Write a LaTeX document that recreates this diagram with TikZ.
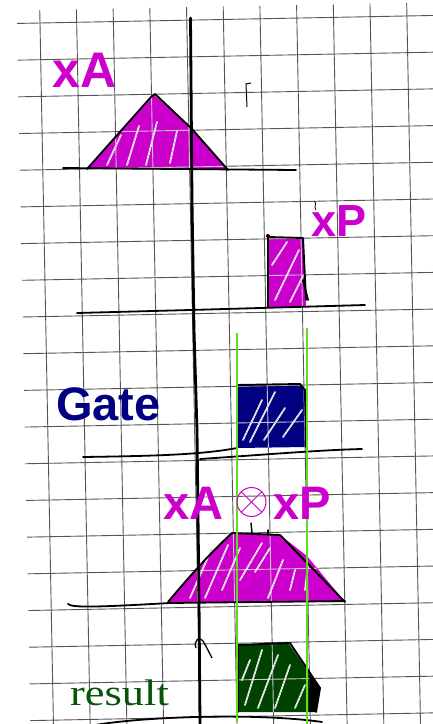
\documentclass[tikz,border=0pt]{standalone}
\usepackage{fontspec}
\setmainfont{Liberation Serif}
\newfontfamily\lsans{Liberation Sans}
\definecolor{mag}{RGB}{204,0,204}
\definecolor{navyb}{RGB}{0,0,128}
\definecolor{dgreen}{RGB}{8,84,8}
\definecolor{dgfill}{RGB}{0,66,0}
\definecolor{lgreen}{RGB}{96,220,32}
\definecolor{gridc}{RGB}{85,85,85}
\definecolor{gridl}{RGB}{200,200,200}
\newcommand\drawmygrid[1]{%
  \begin{scope}[shift={(40,23)},rotate=1.1]
    \foreach \k in {0,...,11}{\draw[#1] (\k*36.7,-13) -- (\k*36.7,712);}
    \foreach \j in {0,...,19}{\draw[#1] (-23,\j*36.7) -- (410,\j*36.7);}
  \end{scope}}
\begin{document}
\begin{tikzpicture}[x=1pt,y=-1pt,
  gridline/.style={gridc,line width=0.9},
  gridlight/.style={gridl,line width=0.9},
  outline/.style={black,line width=1.9,line cap=round,line join=round},
  baseline/.style={black,line width=1.8,line cap=round},
  hatchw/.style={white,line width=1.7,line cap=round},
  hatchd/.style={black!45,line width=0.6,densely dotted},
  glabel/.style={inner sep=0,anchor=base west}]
\useasboundingbox (0,0) rectangle (432,724);
\fill[white] (0,0) rectangle (432,724);
% grid
\drawmygrid{gridline}
% fills
\fill[mag] (87,169) -- (154,95) -- (192,129) -- (228,170) -- cycle;
\fill[mag] (269,238) -- (303,238) -- (306,307) -- (269,307) -- cycle;
\fill[navyb] (237,385) -- (300,384) -- (305,390) -- (306,447) -- (237,448) -- cycle;
\fill[mag] (168,602) .. controls (185,582) and (205,558) .. (232,533) -- (280,535) -- (307,556) -- (345,602) -- cycle;
\fill[dgfill] (238,645) -- (289,644) -- (309,673) -- (309,712) -- (238,712) -- cycle;
\fill[black] (309,673) -- (320,688) -- (316,712) -- (309,712) -- cycle;
% light grid over fills
\begin{scope}\clip (87,169) -- (154,95) -- (192,129) -- (228,170) -- cycle; \drawmygrid{gridlight}\end{scope}
\begin{scope}\clip (269,238) -- (303,238) -- (306,307) -- (269,307) -- cycle; \drawmygrid{gridlight}\end{scope}
\begin{scope}\clip (237,385) -- (300,384) -- (305,390) -- (306,447) -- (237,448) -- cycle; \drawmygrid{gridlight}\end{scope}
\begin{scope}\clip (168,602) .. controls (185,582) and (205,558) .. (232,533) -- (280,535) -- (307,556) -- (345,602) -- cycle; \drawmygrid{gridlight}\end{scope}
\begin{scope}\clip (238,645) -- (289,644) -- (309,673) -- (309,712) -- (238,712) -- cycle; \drawmygrid{gridlight}\end{scope}
% hatching
\foreach \p/\q in {{107,165}/{121,135},{127,165}/{139,126},{146,165}/{157,122},{170,163}/{177,131},
  {272,265}/{287,242},{275,300}/{299,250},{290,302}/{303,276},
  {243,440}/{262,400},{250,442}/{275,392},{264,440}/{285,408},{283,437}/{302,410},
  {190,598}/{212,548},{205,598}/{228,545},{222,590}/{240,548},{240,580}/{262,543},{255,572}/{270,548},{268,598}/{283,560},{290,590}/{295,570},{305,590}/{308,565},
  {245,705}/{262,650},{258,708}/{278,655},{275,708}/{290,665},{295,708}/{305,685},{242,680}/{250,660}}
  {\draw[hatchw] (\p) -- (\q); \draw[hatchd] (\p) -- (\q);}
% outlines
\draw[outline] (87,169) -- (151,97) -- (155,94) -- (192,129) -- (228,170);
\draw[outline] (268,307) -- (268,237) -- (303,238) -- (306,300);
\draw[outline] (303,280) -- (308,300);
\fill (268,236) circle (2);
\draw[outline] (237,448) -- (237,385) -- (300,384) -- (305,390) -- (306,447);
\draw[outline] (168,602) .. controls (185,582) and (205,558) .. (232,533) -- (280,535) -- (345,602);
\draw[outline,line width=1.4] (251,523) -- (252,533);
\draw[outline,line width=1.4] (268,530) -- (268,534);
\draw[outline] (238,712) -- (238,645) -- (290,643) -- (320,688) -- (316,712);
% baselines
\draw[baseline] (63,168) -- (296,170);
\draw[baseline] (77,313) -- (190,310) -- (365,305);
\draw[baseline] (83,457) .. controls (150,456) and (200,455) .. (237,448);
\draw[baseline] (200,459) .. controls (260,455) and (320,450) .. (362,449);
\draw[baseline] (68,604) .. controls (72,608) and (100,607) .. (170,603) -- (345,601);
\draw[baseline] (95,725) .. controls (150,716) and (260,713) .. (322,722);
% small marks
\draw[black,line width=1] (247,107) -- (246,84) -- (251,83);
\draw[black,line width=0.8] (314,201) .. controls (318,203) and (313,206) .. (316,210);
\draw[black,line width=1.3] (196,648) .. controls (193,640) and (200,636) .. (203,641) .. controls (206,646) and (209,652) .. (212,658);
% green guide lines
\draw[lgreen,line width=1.3] (237,333) -- (237,722);
\draw[lgreen,line width=1.3] (307,328) -- (307,724);
% axis
\draw[black,line width=2.8,line cap=round] (190.5,18) -- (192,200) -- (194,330) -- (197,430) -- (199,600) -- (200,724);
% labels
\node[glabel,text=mag,font=\lsans\bfseries\fontsize{50}{50}\selectfont] (xA) at (52,87) {xA};
\node[glabel,text=mag,font=\lsans\bfseries\fontsize{45}{45}\selectfont] (xP) at (311,236) {xP};
\node[glabel,text=navyb,font=\lsans\bfseries\fontsize{47}{47}\selectfont] (gate) at (56,420) {Gate};
\node[glabel,text=mag,font=\lsans\bfseries\fontsize{47}{47}\selectfont] (xA2) at (163,519) {xA};
\node[draw=mag,circle,minimum size=29,inner sep=0,line width=1] (otimes) at (251.5,502) {};
\draw[mag,line width=1] (otimes.north west) -- (otimes.south east);
\draw[mag,line width=1] (otimes.north east) -- (otimes.south west);
\node[glabel,text=mag,font=\lsans\bfseries\fontsize{47}{47}\selectfont] (xP2) at (273,519) {xP};
\node[glabel,text=dgreen,font=\fontsize{37}{37}\selectfont] (result) at (70,705) {\scalebox{1.2}[1]{result}};
\end{tikzpicture}
\end{document}
